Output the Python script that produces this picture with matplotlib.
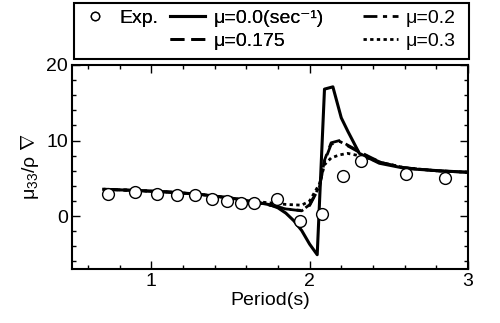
import matplotlib
matplotlib.use("Agg")
import matplotlib.pyplot as plt
from matplotlib.lines import Line2D
from matplotlib.patches import Rectangle
from matplotlib.ticker import MultipleLocator

plt.rcParams['font.family'] = ['Liberation Sans', 'DejaVu Sans']
plt.rcParams['mathtext.fontset'] = 'custom'
plt.rcParams['mathtext.rm'] = 'Liberation Sans'
plt.rcParams['mathtext.it'] = 'Liberation Sans'

# experiment
exp_t = [0.728, 0.899, 1.038, 1.166, 1.277, 1.382, 1.476, 1.566, 1.65, 1.797, 1.94, 2.078, 2.208, 2.327, 2.606, 2.855]
exp_v = [2.99, 3.2, 2.9, 2.76, 2.8, 2.3, 1.96, 1.78, 1.78, 2.23, -0.7, 0.23, 5.33, 7.33, 5.56, 5.07]

# mu = 0.0
t0 = [0.70, 0.9, 1.1, 1.3, 1.5, 1.65, 1.75, 1.8, 1.85, 1.9, 1.95, 2.0, 2.048, 2.094, 2.147,
      2.2, 2.242, 2.314, 2.44, 2.608, 2.818, 3.0]
v0 = [3.55, 3.4, 3.2, 2.9, 2.4, 1.9, 1.5, 1.1, 0.4, -0.6, -1.9, -3.7, -5.1, 16.8, 17.1,
      13.0, 11.2, 8.3, 7.0, 6.3, 6.0, 5.8]

# damped cases
t1 = [0.7, 0.9, 1.1, 1.3, 1.5, 1.65, 1.75, 1.85, 1.95, 2.0, 2.063, 2.094, 2.136, 2.189, 2.24,
      2.335, 2.45, 2.6, 2.8, 3.0]
v175 = [3.55, 3.4, 3.2, 2.9, 2.4, 1.9, 1.45, 0.95, 0.7, 1.4, 3.9, 7.4, 9.7, 10.0, 9.4,
        8.3, 7.1, 6.4, 6.0, 5.8]
v2 = [3.55, 3.4, 3.2, 2.9, 2.4, 1.9, 1.45, 0.95, 0.75, 1.5, 4.0, 7.2, 9.5, 9.9, 9.3,
      8.2, 7.1, 6.4, 6.0, 5.8]
v3 = [3.55, 3.4, 3.2, 2.9, 2.4, 1.95, 1.75, 1.55, 1.45, 2.0, 4.3, 6.8, 7.7, 8.1, 8.3,
      7.9, 7.1, 6.4, 6.0, 5.8]

W, H = 500, 323
fig = plt.figure(figsize=(5, 3.23), dpi=100)
ax = fig.add_axes([0.144, 0.167, 0.792, 0.632])

ax.plot(t0, v0, color='black', lw=2.2)
ax.plot(t1, v175, color='black', lw=2.0, dashes=(5, 2.5))
ax.plot(t1, v2, color='black', lw=2.0, dashes=(5, 2, 1.5, 2))
ax.plot(t1, v3, color='black', lw=2.0, dashes=(1.2, 1.2))
ax.plot(exp_t, exp_v, 'o', ms=8.5, mfc='white', mec='black', mew=1.0, linestyle='none')

ax.set_xlim(0.5, 3)
ax.set_ylim(-7, 20)
ax.xaxis.set_major_locator(MultipleLocator(1))
ax.xaxis.set_minor_locator(MultipleLocator(0.2))
ax.yaxis.set_major_locator(MultipleLocator(10))
ax.yaxis.set_minor_locator(MultipleLocator(2))
ax.tick_params(which='both', direction='in', top=True, right=True, labelsize=14, width=1, pad=3)
ax.tick_params(which='major', length=6)
ax.tick_params(which='minor', length=3)
for s in ax.spines.values():
    s.set_linewidth(1.5)

ax.set_xlabel('Period(s)', fontsize=14, labelpad=1)
ax.set_ylabel(r'$\mathrm{\mu_{33}/\rho\ \nabla}$', fontsize=14, labelpad=4)

# legend: box + two groups of entries
fig.patches.append(Rectangle((74 / W, 1 - 59 / H), 395 / W, 56 / H, transform=fig.transFigure,
                             fill=False, edgecolor='black', lw=1.5))

h_exp = Line2D([], [], marker='o', ms=6, mfc='white', mec='black', ls='none')
h_blank = Line2D([], [], ls='none')
h0 = Line2D([], [], color='black', lw=2.2)
h175 = Line2D([], [], color='black', lw=2.0, dashes=(5, 2.5))
h2 = Line2D([], [], color='black', lw=2.0, dashes=(5, 2, 1.5, 2))
h3 = Line2D([], [], color='black', lw=2.0, dashes=(1.2, 1.2))

opts = dict(fontsize=14, frameon=False, borderaxespad=0, borderpad=0, handlelength=1.8,
            handletextpad=0.4, labelspacing=0.3, loc='upper left')
leg1 = fig.legend([h_exp, h_blank, h0, h175], ['Exp.', '', 'μ=0.0(sec⁻¹)', 'μ=0.175'],
                  ncol=2, columnspacing=0.6, bbox_to_anchor=(77 / W, 1 - 9 / H), **opts)
fig.add_artist(leg1)
fig.legend([h2, h3], ['μ=0.2', 'μ=0.3'], ncol=1,
           bbox_to_anchor=(363 / W, 1 - 9 / H), **opts)

fig.savefig('out.png', dpi=100)
